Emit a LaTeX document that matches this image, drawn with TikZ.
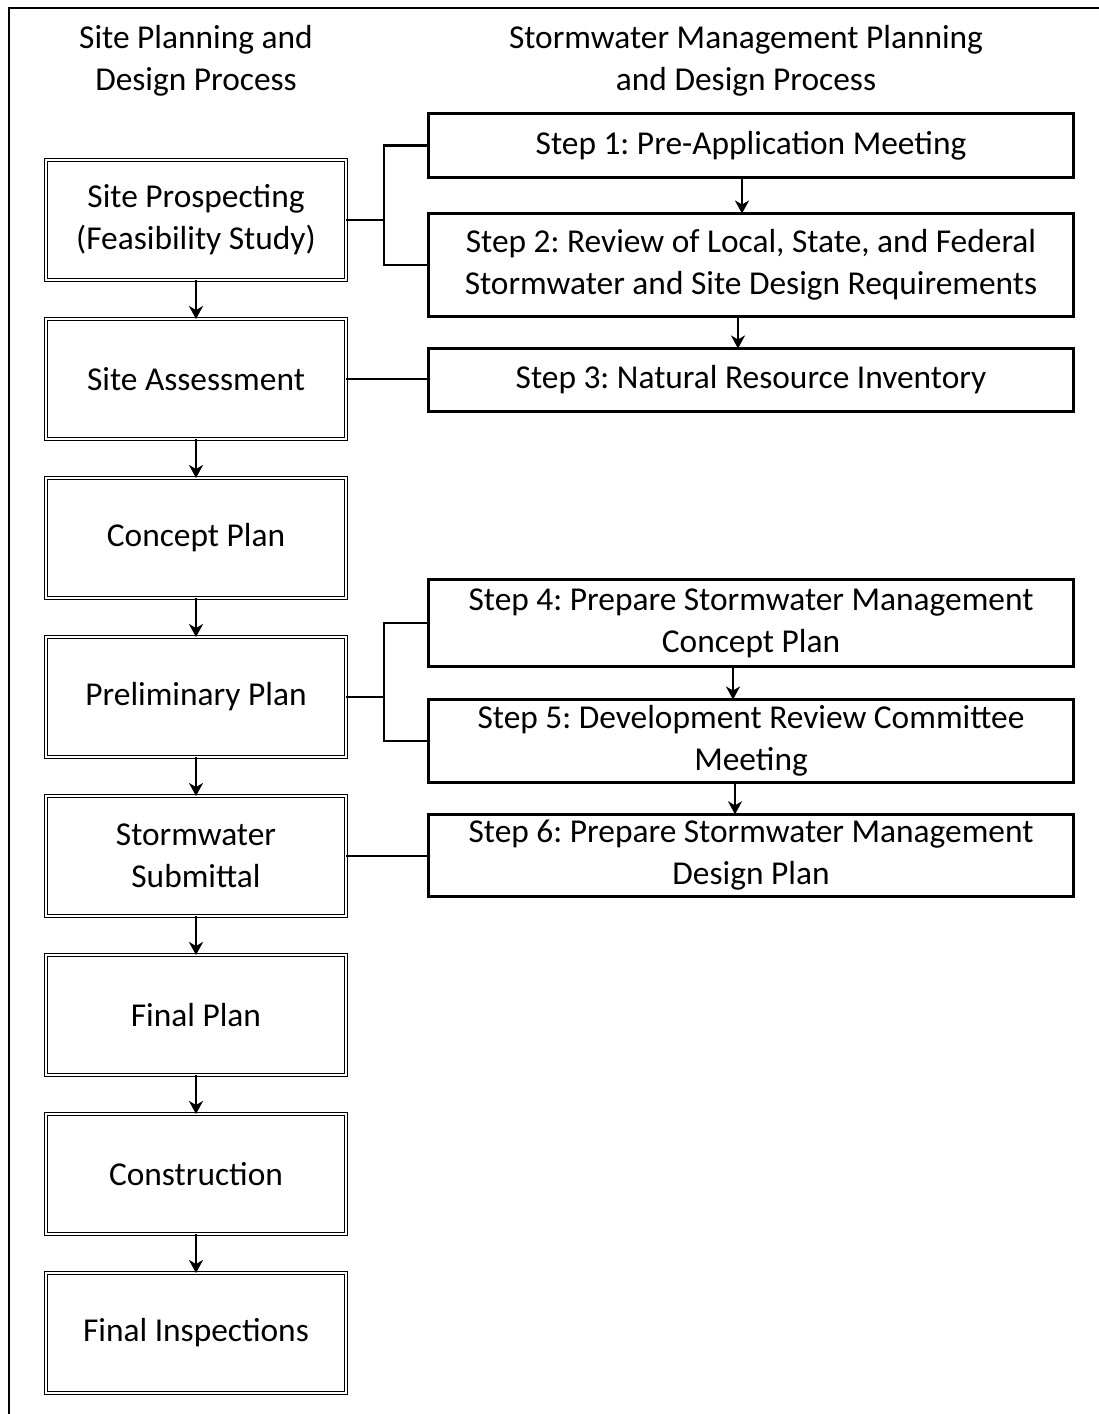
\documentclass[tikz,border=0pt]{standalone}
\usepackage{fontspec}
\setmainfont{Carlito}
\frenchspacing
\usepackage{tikz}
\usetikzlibrary{shapes.geometric, arrows.meta, calc, positioning}
\tikzstyle{sitebox} = [rectangle, draw=black, double=white, line width=0.7pt, double distance=1.3pt, minimum width=6cm, minimum height=2.4cm, outer sep=0pt, text centered, align=center]
\tikzstyle{stepbox} = [rectangle, draw=black, line width=1.5pt, minimum width=12.9cm, outer sep=0pt, text centered, align=center]
\tikzstyle{heading} = [align=center]
\tikzstyle{arrow} = [line width=1.5pt,->,>={Stealth[length=2.6mm,width=2.8mm,inset=0.8mm]}]
\tikzstyle{link} = [line width=1.5pt]

\begin{document}
\begin{tikzpicture}[node distance = 0.78cm, font=\fontsize{19}{24}\selectfont]
		\useasboundingbox (0,0) rectangle (21.98,-28.28);
		\draw[line width=1.1pt] (0.18,-28.4) |- (22.1,-0.16);

		\node (SiteHead) [heading] at (3.92,-1.22) {Site Planning and\\Design Process};
		\node (StormHead) [heading] at (14.92,-1.22) {Stormwater Management Planning\\and Design Process};

		\node (Prospecting) [sitebox] at (3.92,-4.4) {Site Prospecting\\(Feasibility Study)};
		\node (Assessment) [sitebox, below = of Prospecting] {Site Assessment};
		\node (Concept) [sitebox, below = of Assessment] {Concept Plan};
		\node (Preliminary) [sitebox, below = of Concept] {Preliminary Plan};
		\node (Submittal) [sitebox, below = of Preliminary] {Stormwater\\Submittal};
		\node (Final) [sitebox, below = of Submittal] {Final Plan};
		\node (Construction) [sitebox, below = of Final] {Construction};
		\node (Inspections) [sitebox, below = of Construction] {Final Inspections};

		\node (Step01) [stepbox, minimum height=1.28cm] at (15.02,-2.91) {Step 1: Pre-Application Meeting};
		\node (Step02) [stepbox, minimum height=2.06cm, below = 0.72cm of Step01] {Step 2: Review of Local, State, and Federal\\Stormwater and Site Design Requirements};
		\node (Step03) [stepbox, minimum height=1.26cm, below = 0.64cm of Step02] {Step 3: Natural Resource Inventory};
		\node (Step04) [stepbox, minimum height=1.74cm] at (15.02,-12.46) {Step 4: Prepare Stormwater Management\\Concept Plan};
		\node (Step05) [stepbox, minimum height=1.64cm, below = 0.66cm of Step04] {Step 5: Development Review Committee\\Meeting};
		\node (Step06) [stepbox, minimum height=1.58cm, below = 0.64cm of Step05] {Step 6: Prepare Stormwater Management\\Design Plan};

		\coordinate (JoinA) at ($(Prospecting.east) + (0.76,0)$);
		\coordinate (JoinB) at ($(Preliminary.east) + (0.76,0)$);

		\draw [arrow] (Prospecting) -- (Assessment);
		\draw [arrow] (Assessment) -- (Concept);
		\draw [arrow] (Concept) -- (Preliminary);
		\draw [arrow] (Preliminary) -- (Submittal);
		\draw [arrow] (Submittal) -- (Final);
		\draw [arrow] (Final) -- (Construction);
		\draw [arrow] (Construction) -- (Inspections);

		\draw [link] (Prospecting.east) -- (JoinA);
		\draw [link] (Step01.west) -| (JoinA) |- (Step02.west);
		\draw [link] (Assessment.east) -- (Step03.west |- Assessment.east);
		\draw [link] (Preliminary.east) -- (JoinB);
		\draw [link] (Step04.west) -| (JoinB) |- (Step05.west);
		\draw [link] (Submittal.east) -- (Step06.west |- Submittal.east);

		\draw [arrow] ([xshift=-1.8mm]Step01.south) -- ([xshift=-1.8mm]Step02.north);
		\draw [arrow] ([xshift=-2.6mm]Step02.south) -- ([xshift=-2.6mm]Step03.north);
		\draw [arrow] ([xshift=-3.6mm]Step04.south) -- ([xshift=-3.6mm]Step05.north);
		\draw [arrow] ([xshift=-3.2mm]Step05.south) -- ([xshift=-3.2mm]Step06.north);
	\end{tikzpicture}
\end{document}
